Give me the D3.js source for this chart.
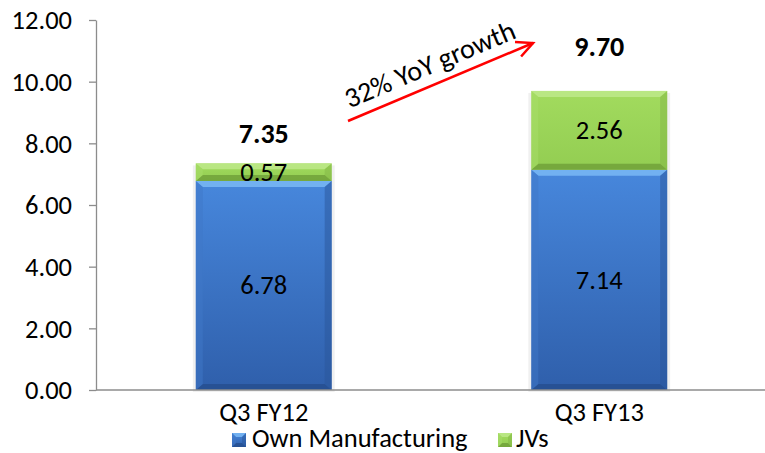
<!DOCTYPE html>
<html><head><meta charset="utf-8">
<script src="https://cdn.jsdelivr.net/npm/d3@7"></script>
<style>body{margin:0;background:#fff}svg{display:block}text{font-family:Carlito,"Open Sans","Liberation Sans",sans-serif}</style>
</head><body><svg id="c" width="765" height="453"></svg>
<script>
const categories = ["Q3 FY12", "Q3 FY13"];
const ownManufacturing = [6.78, 7.14];
const jvs = [0.57, 2.56];
const totals = [7.35, 9.70];
const yTicks = [0, 2, 4, 6, 8, 10, 12];
const seriesNames = ["Own Manufacturing", "JVs"];
const growthLabel = "32% YoY growth";

const totalLabelGap = [20, 35];
const FS = 26.5;

const svg = d3.select("#c");
const x = d3.scaleBand().domain(categories).range([96, 767]).paddingInner(0.595).paddingOuter(0.2975);
const y = d3.scaleLinear().domain([0, 12]).range([390, 20]);

const defs = svg.append("defs");
function grad(id, stops){
  const g = defs.append("linearGradient").attr("id", id).attr("x1",0).attr("y1",0).attr("x2",0).attr("y2",1);
  stops.forEach(s => g.append("stop").attr("offset", s[0]).attr("stop-color", s[1]));
}
grad("gBlue", [[0,"#4787dc"],[1,"#2f5fab"]]);
grad("gGreen", [[0,"#a2db5e"],[1,"#93cd52"]]);
const pal = {
  blue: {fill:"url(#gBlue)", top:"#7ab8f4", bot:"#244c8a", side:"#3f78c8", sideR:"#2a5699"},
  green:{fill:"url(#gGreen)", top:"#bde98a", bot:"#6a9835", side:"#a8de6a", sideR:"#82b646"}
};

const yAxis = svg.append("g").attr("transform","translate(96,0)")
  .call(d3.axisLeft(y).tickValues(yTicks).tickFormat(d3.format(".2f")).tickSize(7).tickSizeOuter(0));
yAxis.select(".domain").attr("stroke","#8c8c8c").attr("stroke-width",1.3);
yAxis.selectAll(".tick line").attr("stroke","#8c8c8c").attr("stroke-width",1.3);
yAxis.selectAll(".tick text").attr("font-size",FS).attr("fill","#000").attr("x",-24).attr("dy","0.33em");

function bevelBar(g, x0, w, yTop, yBot, p, bvx, bvy){
  const h = yBot - yTop;
  const b = Math.min(bvy, h/3), bx = bvx;
  g.append("rect").attr("x",x0).attr("y",yTop).attr("width",w).attr("height",h).attr("fill",p.fill);
  g.append("polygon").attr("points",[[x0,yTop],[x0+w,yTop],[x0+w-bx,yTop+b],[x0+bx,yTop+b]].join(" ")).attr("fill",p.top).attr("opacity",0.85);
  g.append("polygon").attr("points",[[x0,yBot],[x0+w,yBot],[x0+w-bx,yBot-b],[x0+bx,yBot-b]].join(" ")).attr("fill",p.bot).attr("opacity",0.7);
  g.append("polygon").attr("points",[[x0,yTop],[x0+bx,yTop+b],[x0+bx,yBot-b],[x0,yBot]].join(" ")).attr("fill",p.side).attr("opacity",0.5);
  g.append("polygon").attr("points",[[x0+w,yTop],[x0+w-bx,yTop+b],[x0+w-bx,yBot-b],[x0+w,yBot]].join(" ")).attr("fill",p.sideR).attr("opacity",0.5);
}
categories.forEach((c,i)=>{
  svg.append("rect").attr("x",x(c)-3).attr("y",y(totals[i])+2).attr("width",x.bandwidth()+6).attr("height",y(0)-y(totals[i])).attr("fill","#000").attr("opacity",0.06);
});
categories.forEach((c,i)=>{
  const g = svg.append("g");
  bevelBar(g, x(c), x.bandwidth(), y(ownManufacturing[i]), y(0), pal.blue, 7, 6);
  bevelBar(g, x(c), x.bandwidth(), y(ownManufacturing[i]+jvs[i]), y(ownManufacturing[i]), pal.green, 7, 6);
  const cx = x(c)+x.bandwidth()/2;
  svg.append("text").attr("x",cx).attr("y",(y(ownManufacturing[i])+y(0))/2).attr("dy","0.33em").attr("text-anchor","middle").attr("font-size",FS).text(ownManufacturing[i].toFixed(2));
  svg.append("text").attr("x",cx).attr("y",(y(ownManufacturing[i]+jvs[i])+y(ownManufacturing[i]))/2).attr("dy","0.33em").attr("text-anchor","middle").attr("font-size",FS).text(jvs[i].toFixed(2));
  svg.append("text").attr("x",cx).attr("y",y(totals[i])-totalLabelGap[i]).attr("text-anchor","middle").attr("font-size",28).attr("font-weight","bold").text(totals[i].toFixed(2));
  svg.append("text").attr("x",cx).attr("y",421).attr("text-anchor","middle").attr("font-size",FS).text(c);
});

svg.append("line").attr("x1",96).attr("x2",765).attr("y1",y(0)).attr("y2",y(0)).attr("stroke","#8c8c8c").attr("stroke-width",1.3);

const a0 = [348,121], a1 = [533,43];
svg.append("line").attr("x1",a0[0]).attr("y1",a0[1]).attr("x2",a1[0]).attr("y2",a1[1]).attr("stroke","#ff0000").attr("stroke-width",2.5);
const ang = Math.atan2(a1[1]-a0[1], a1[0]-a0[0]);
const ah = 18, aw = 0.45;
svg.append("polyline").attr("points",[
  [a1[0]-ah*Math.cos(ang-aw), a1[1]-ah*Math.sin(ang-aw)], a1,
  [a1[0]-ah*Math.cos(ang+aw), a1[1]-ah*Math.sin(ang+aw)]].join(" "))
  .attr("fill","none").attr("stroke","#ff0000").attr("stroke-width",2.5);
const mid = [(a0[0]+a1[0])/2, (a0[1]+a1[1])/2];
svg.append("text").attr("transform",`translate(${mid[0]},${mid[1]}) rotate(${ang*180/Math.PI})`)
  .attr("x",-3).attr("y",-11).attr("text-anchor","middle").attr("font-size",28).text(growthLabel);

const leg = [{name:seriesNames[0], p:pal.blue, x:232, tx:252},{name:seriesNames[1], p:pal.green, x:498, tx:516}];
leg.forEach(l=>{
  const g = svg.append("g");
  bevelBar(g, l.x, 14, 433, 447, l.p, 4, 4);
  svg.append("text").attr("x",l.tx).attr("y",447).attr("font-size",FS).text(l.name);
});
</script></body></html>
